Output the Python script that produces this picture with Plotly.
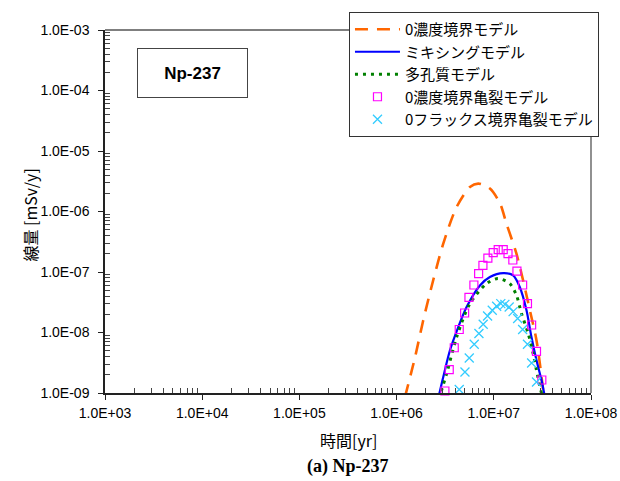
import plotly.graph_objects as go

# ---- data ----
conc_x = [1.22e6, 1.55e6, 1.88e6, 2.38e6, 3.02e6, 4.15e6, 5.68e6, 6.92e6, 9.12e6,
          1.16e7, 1.35e7, 1.71e7, 2.0e7, 2.35e7, 2.75e7, 3.10e7, 3.27e7]
conc_y = [8.6e-10, 3.94e-9, 1.59e-8, 7.3e-8, 2.94e-7, 1.19e-6, 2.54e-6, 2.89e-6, 2.39e-6,
          1.35e-6, 6.3e-7, 2.01e-7, 7.3e-8, 2.33e-8, 7.4e-9, 1.84e-9, 8.6e-10]

mix_x = [2.68e6, 3.02e6, 3.54e6, 4.31e6, 5.25e6, 7.2e6, 9.12e6, 1.25e7, 1.58e7,
         1.85e7, 2.17e7, 2.44e7, 2.75e7, 3.10e7, 3.35e7]
mix_y = [8.1e-10, 1.84e-9, 5.08e-9, 1.23e-8, 2.64e-8, 6.0e-8, 8.26e-8, 9.6e-8, 8.8e-8,
         5.65e-8, 2.33e-8, 8.4e-9, 3.47e-9, 1.62e-9, 8.6e-10]

por_x = [2.72e6, 3.27e6, 4.15e6, 5.68e6, 8.43e6, 1.10e7, 1.46e7, 1.71e7, 1.93e7,
         2.26e7, 2.54e7, 2.75e7, 3.10e7]
por_y = [8.0e-10, 2.09e-9, 8.4e-9, 3.0e-8, 6.43e-8, 7.8e-8, 6.43e-8, 4.12e-8, 2.05e-8,
         9.6e-9, 4.48e-9, 2.37e-9, 9.8e-10]

crack_conc_x = [3.14e6, 3.48e6, 3.92e6, 4.41e6, 5.01e6, 5.55e6, 6.24e6, 6.98e6, 7.73e6,
                8.69e6, 9.86e6, 1.11e7, 1.25e7, 1.40e7, 1.57e7, 1.73e7, 1.98e7,
                2.22e7, 2.45e7, 2.75e7, 3.12e7]
crack_conc_y = [1.08e-9, 2.44e-9, 5.6e-9, 1.12e-8, 2.10e-8, 3.82e-8, 6.1e-8, 9.4e-8, 1.29e-7,
                1.70e-7, 2.09e-7, 2.34e-7, 2.34e-7, 2.01e-7, 1.58e-7, 1.03e-7, 6.1e-8,
                3.0e-8, 1.33e-8, 4.89e-9, 1.64e-9]

crack_flux_x = [4.41e6, 5.05e6, 5.59e6, 6.29e6, 7.03e6, 7.78e6, 8.63e6, 9.64e6, 1.07e7,
                1.18e7, 1.30e7, 1.44e7, 1.58e7, 1.76e7, 1.98e7, 2.22e7, 2.45e7, 2.75e7]
crack_flux_y = [1.14e-9, 2.22e-9, 3.79e-9, 6.4e-9, 9.6e-9, 1.37e-8, 1.87e-8, 2.33e-8, 2.71e-8,
                3.0e-8, 2.92e-8, 2.64e-8, 2.21e-8, 1.70e-8, 1.12e-8, 6.4e-9, 3.13e-9, 1.52e-9]

names = ["0濃度境界モデル", "ミキシングモデル", "多孔質モデル",
         "0濃度境界亀裂モデル", "0フラックス境界亀裂モデル"]

x_tickvals = [1e3, 1e4, 1e5, 1e6, 1e7, 1e8]
x_ticktext = ["1.0E+03", "1.0E+04", "1.0E+05", "1.0E+06", "1.0E+07", "1.0E+08"]
y_tickvals = [1e-9, 1e-8, 1e-7, 1e-6, 1e-5, 1e-4, 1e-3]
y_ticktext = ["1.0E-09", "1.0E-08", "1.0E-07", "1.0E-06", "1.0E-05", "1.0E-04", "1.0E-03"]

JP = "Noto Sans CJK JP"
SANS = "Liberation Sans, Arial, sans-serif"

fig = go.Figure()
fig.add_trace(go.Scatter(x=conc_x, y=conc_y, mode="lines", name=names[0],
                         line=dict(color="#FF6600", width=2.6, dash="13px,9px", shape="spline", smoothing=0.8)))
fig.add_trace(go.Scatter(x=mix_x, y=mix_y, mode="lines", name=names[1],
                         line=dict(color="#0000FF", width=2.2, shape="spline", smoothing=0.8)))
fig.add_trace(go.Scatter(x=por_x, y=por_y, mode="lines", name=names[2],
                         line=dict(color="#008000", width=3, dash="3px,5px", shape="spline", smoothing=0.8)))
fig.add_trace(go.Scatter(x=crack_conc_x, y=crack_conc_y, mode="markers", name=names[3], cliponaxis=False,
                         marker=dict(symbol="square-open", size=8, color="#FF00FF", line=dict(width=1.2))))
fig.add_trace(go.Scatter(x=crack_flux_x, y=crack_flux_y, mode="markers", name=names[4], cliponaxis=False,
                         marker=dict(symbol="x-thin-open", size=9, color="#33CCFF", line=dict(width=1.3, color="#33CCFF"))))

x_minor = [m * 10 ** k for k in range(3, 8) for m in range(2, 10)]
y_minor = [m * 10.0 ** k for k in range(-9, -3) for m in range(2, 10)]

fig.update_xaxes(type="log", range=[3, 8], tickmode="array", tickvals=x_tickvals, ticktext=x_ticktext,
                 showgrid=False, zeroline=False, showline=True, linecolor="#222", linewidth=1.5,
                 ticks="outside", ticklen=5, tickwidth=1, tickcolor="#222", automargin=False,
                 tickfont=dict(family=SANS, size=14, color="black"), ticklabelstandoff=1,
                 ticklabeloverflow="allow",
                 minor=dict(tickmode="array", tickvals=x_minor, ticks="inside", ticklen=5, tickcolor="#444", showgrid=False))
fig.update_yaxes(type="log", range=[-9, -3], tickmode="array", tickvals=y_tickvals, ticktext=y_ticktext,
                 showgrid=False, zeroline=False, showline=True, linecolor="#222", linewidth=1.5,
                 ticks="outside", ticklen=5, tickwidth=1, tickcolor="#222", automargin=False,
                 tickfont=dict(family=SANS, size=14, color="black"), ticklabelstandoff=6,
                 minor=dict(tickmode="array", tickvals=y_minor, ticks="inside", ticklen=5, tickcolor="#444", showgrid=False))

fig.update_layout(
    width=620, height=481,
    margin=dict(l=105, r=29, t=30, b=88, autoexpand=False),
    paper_bgcolor="white", plot_bgcolor="white",
    showlegend=True,
    legend=dict(x=0.502, y=1.0496, xanchor="left", yanchor="top", itemwidth=45,
                bgcolor="white", bordercolor="#333", borderwidth=1,
                font=dict(family=JP, size=15, color="black")),
    shapes=[
        dict(type="line", xref="paper", yref="paper", x0=0, x1=1, y0=1, y1=1,
             line=dict(color="#555", width=1.3)),
        dict(type="line", xref="paper", yref="paper", x0=1, x1=1, y0=0, y1=1,
             line=dict(color="#555", width=1.3)),
    ],
    annotations=[
        dict(text="時間[yr]", xref="paper", yref="paper", x=0.5, y=-0.130,
             xanchor="center", yanchor="middle", showarrow=False,
             font=dict(family=JP, size=16, color="black")),
        dict(text="<b>(a) Np-237</b>", xref="paper", yref="paper", x=0.5, y=-0.202,
             xanchor="center", yanchor="middle", showarrow=False,
             font=dict(family="Liberation Serif, Times New Roman, serif", size=18, color="black")),
        dict(text="線量 [mSv/y]", xref="paper", yref="paper", x=-0.1536, y=0.49,
             xanchor="center", yanchor="middle", showarrow=False, textangle=-90,
             font=dict(family=JP, size=16, color="black")),
        dict(text="<b>Np-237</b>", xref="paper", yref="paper", x=0.18, y=0.8807,
             xanchor="center", yanchor="middle", showarrow=False,
             width=105, height=44, borderpad=2, bordercolor="#444", borderwidth=1, bgcolor="white",
             font=dict(family=SANS, size=17, color="black")),
    ],
)

fig.write_html("out.html", config={"displayModeBar": False},
               post_script="document.body.style.margin='0px';document.body.style.overflow='hidden';")
